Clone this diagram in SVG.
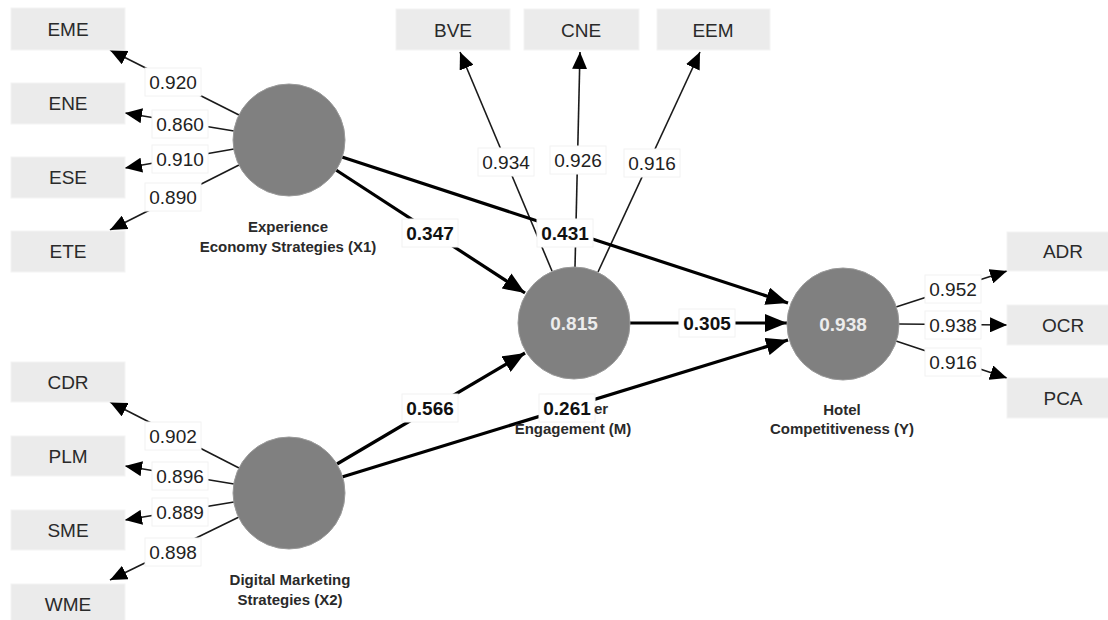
<svg xmlns="http://www.w3.org/2000/svg" width="1108" height="620" viewBox="0 0 1108 620">
<style>
.bg{fill:#ffffff}
.box{fill:#ebebeb;stroke:#f4f4f4;stroke-width:1}
.btxt{font-family:"Liberation Sans",Arial,sans-serif;font-size:19px;fill:#2a2a2a;text-anchor:middle}
.lat{fill:#808080;stroke:#9a9a9a;stroke-width:1}
.ltxt{font-family:"Liberation Sans",Arial,sans-serif;font-size:15px;font-weight:bold;fill:#2a2a2a;text-anchor:middle}
.r2{font-family:"Liberation Sans",Arial,sans-serif;font-size:19px;font-weight:bold;fill:#ececec;text-anchor:middle}
.thin{stroke:#1a1a1a;stroke-width:1.6;fill:none;marker-end:url(#ah)}
.thick{stroke:#000;stroke-width:3.2;fill:none;marker-end:url(#ahb)}
.lb{fill:#ffffff;stroke:#f2f2f2;stroke-width:1}
.ln{font-family:"Liberation Sans",Arial,sans-serif;font-size:19px;fill:#222;text-anchor:middle}
.lnb{font-family:"Liberation Sans",Arial,sans-serif;font-size:19px;font-weight:bold;fill:#111;text-anchor:middle}
</style>
<defs>
<marker id="ah" markerUnits="userSpaceOnUse" markerWidth="17" markerHeight="15" refX="17" refY="7.5" orient="auto"><path d="M0,0 L17,7.5 L0,15 z" fill="#000"/></marker>
<marker id="ahb" markerUnits="userSpaceOnUse" markerWidth="22" markerHeight="18" refX="22" refY="9" orient="auto"><path d="M0,0 L22,9 L0,18 z" fill="#000"/></marker>
</defs>
<rect class="bg" x="0" y="0" width="1108" height="620"/>
<g id="connectors">
<line class="thin" x1="239" y1="115" x2="110" y2="50"/>
<line class="thin" x1="234" y1="131" x2="125" y2="113"/>
<line class="thin" x1="234" y1="149" x2="125" y2="168"/>
<line class="thin" x1="239" y1="165" x2="110" y2="230"/>
<line class="thin" x1="239" y1="468" x2="110" y2="402"/>
<line class="thin" x1="234" y1="484" x2="125" y2="466"/>
<line class="thin" x1="234" y1="502" x2="125" y2="520"/>
<line class="thin" x1="239" y1="517" x2="110" y2="580"/>
<line class="thin" x1="552" y1="271" x2="460" y2="52"/>
<line class="thin" x1="575" y1="267" x2="580" y2="52"/>
<line class="thin" x1="598" y1="272" x2="700" y2="52"/>
<line class="thin" x1="896" y1="307" x2="1007" y2="271"/>
<line class="thin" x1="899" y1="324" x2="1007" y2="325"/>
<line class="thin" x1="896" y1="341" x2="1007" y2="378"/>
<line class="thick" x1="336" y1="170" x2="525" y2="293"/>
<line class="thick" x1="342" y1="157" x2="788" y2="303"/>
<line class="thick" x1="630" y1="323" x2="787" y2="323"/>
<line class="thick" x1="337" y1="464" x2="525" y2="353"/>
<line class="thick" x1="342" y1="477" x2="788" y2="340"/>
<g id="loading-labels">
<rect class="lb" x="145" y="68" width="56" height="28"/><text class="ln" x="173" y="89">0.920</text>
<rect class="lb" x="152" y="110" width="56" height="28"/><text class="ln" x="180" y="131">0.860</text>
<rect class="lb" x="152" y="145" width="56" height="28"/><text class="ln" x="180" y="166">0.910</text>
<rect class="lb" x="145" y="183" width="56" height="28"/><text class="ln" x="173" y="204">0.890</text>
<rect class="lb" x="145" y="422" width="56" height="28"/><text class="ln" x="173" y="443">0.902</text>
<rect class="lb" x="152" y="462" width="56" height="28"/><text class="ln" x="180" y="483">0.896</text>
<rect class="lb" x="152" y="498" width="56" height="28"/><text class="ln" x="180" y="519">0.889</text>
<rect class="lb" x="145" y="538" width="56" height="28"/><text class="ln" x="173" y="559">0.898</text>
<rect class="lb" x="478" y="148" width="56" height="28"/><text class="ln" x="506" y="169">0.934</text>
<rect class="lb" x="550" y="146" width="56" height="28"/><text class="ln" x="578" y="167">0.926</text>
<rect class="lb" x="624" y="149" width="56" height="28"/><text class="ln" x="652" y="170">0.916</text>
<rect class="lb" x="925" y="275" width="56" height="28"/><text class="ln" x="953" y="296">0.952</text>
<rect class="lb" x="925" y="311" width="56" height="28"/><text class="ln" x="953" y="332">0.938</text>
<rect class="lb" x="925" y="348" width="56" height="28"/><text class="ln" x="953" y="369">0.916</text>
</g>
<g id="path-labels">
<rect class="lb" x="402" y="219" width="56" height="28"/><text class="lnb" x="430" y="240">0.347</text>
<rect class="lb" x="537" y="219" width="56" height="28"/><text class="lnb" x="565" y="240">0.431</text>
<rect class="lb" x="679" y="309" width="56" height="28"/><text class="lnb" x="707" y="330">0.305</text>
<rect class="lb" x="402" y="394" width="56" height="28"/><text class="lnb" x="430" y="415">0.566</text>
<rect class="lb" x="539" y="394" width="56" height="28"/><text class="lnb" x="567" y="415">0.261</text>
</g>
</g>
<g id="EME"><rect class="box" x="11" y="8" width="114" height="42"/><text class="btxt" x="68" y="36">EME</text></g>
<g id="ENE"><rect class="box" x="11" y="83" width="114" height="41"/><text class="btxt" x="68" y="110">ENE</text></g>
<g id="ESE"><rect class="box" x="11" y="157" width="114" height="41"/><text class="btxt" x="68" y="184">ESE</text></g>
<g id="ETE"><rect class="box" x="11" y="231" width="114" height="41"/><text class="btxt" x="68" y="258">ETE</text></g>
<g id="CDR"><rect class="box" x="11" y="362" width="114" height="40"/><text class="btxt" x="68" y="389">CDR</text></g>
<g id="PLM"><rect class="box" x="11" y="436" width="114" height="40"/><text class="btxt" x="68" y="463">PLM</text></g>
<g id="SME"><rect class="box" x="11" y="510" width="114" height="40"/><text class="btxt" x="68" y="537">SME</text></g>
<g id="WME"><rect class="box" x="11" y="584" width="114" height="42"/><text class="btxt" x="68" y="611">WME</text></g>
<g id="BVE"><rect class="box" x="396" y="9" width="114" height="41"/><text class="btxt" x="453" y="37">BVE</text></g>
<g id="CNE"><rect class="box" x="524" y="9" width="115" height="41"/><text class="btxt" x="581" y="37">CNE</text></g>
<g id="EEM"><rect class="box" x="657" y="9" width="113" height="41"/><text class="btxt" x="713" y="37">EEM</text></g>
<g id="ADR"><rect class="box" x="1007" y="232" width="114" height="39"/><text class="btxt" x="1063" y="258">ADR</text></g>
<g id="OCR"><rect class="box" x="1007" y="305" width="114" height="40"/><text class="btxt" x="1063" y="332">OCR</text></g>
<g id="PCA"><rect class="box" x="1007" y="378" width="114" height="40"/><text class="btxt" x="1063" y="405">PCA</text></g>
<g id="X1"><circle class="lat" cx="289" cy="140" r="56"/><text class="ltxt" x="288" y="232">Experience</text><text class="ltxt" x="288" y="252">Economy Strategies (X1)</text></g>
<g id="X2"><circle class="lat" cx="289" cy="493" r="56"/><text class="ltxt" x="290" y="585">Digital Marketing</text><text class="ltxt" x="290" y="605">Strategies (X2)</text></g>
<g id="M"><circle class="lat" cx="574" cy="323" r="56"/><text class="r2" x="574" y="330">0.815</text><text class="ltxt" x="594" y="414" style="text-anchor:start">er</text><text class="ltxt" x="573" y="434">Engagement (M)</text></g>
<g id="Y"><circle class="lat" cx="843" cy="324" r="56"/><text class="r2" x="843" y="331">0.938</text><text class="ltxt" x="842" y="415">Hotel</text><text class="ltxt" x="842" y="434">Competitiveness (Y)</text></g>
</svg>
